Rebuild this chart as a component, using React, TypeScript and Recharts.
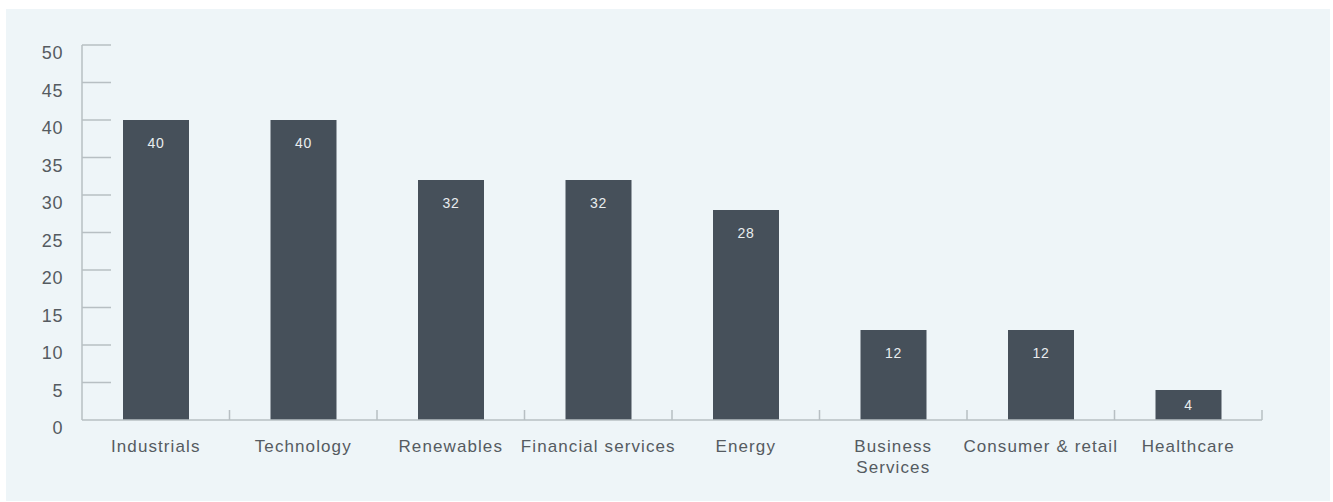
import { BarChart, Bar, XAxis, YAxis, LabelList } from "recharts"

const categories = [
  "Industrials",
  "Technology",
  "Renewables",
  "Financial services",
  "Energy",
  "Business Services",
  "Consumer & retail",
  "Healthcare"
];
const tickLabels = [
  ["Industrials"],
  ["Technology"],
  ["Renewables"],
  ["Financial services"],
  ["Energy"],
  ["Business", "Services"],
  ["Consumer & retail"],
  ["Healthcare"]
];
const values = [40, 40, 32, 32, 28, 12, 12, 4];
const yTicks = [0, 5, 10, 15, 20, 25, 30, 35, 40, 45, 50];

const data = categories.map((name, i) => ({ name, value: values[i] }));

const FONT = "'Liberation Sans', Arial, sans-serif";
const TEXT = "#555b61";
const AXIS = "#b7bfc3";
const BAR = "#46505a";
const BAND = 147.5;

const YTick = (props: any) => {
  const { x, y, payload } = props;
  return (
    <g>
      {payload.value !== 0 && (
        <line x1={x} x2={x + 29} y1={y} y2={y} stroke={AXIS} strokeWidth={1.5} />
      )}
      <text
        x={x - 19}
        y={y + 8}
        textAnchor="end"
        dominantBaseline="central"
        fill={TEXT}
        fontSize={18}
        fontFamily={FONT}
        letterSpacing={0.6}
      >
        {payload.value}
      </text>
    </g>
  );
};

const XTick = (props: any) => {
  const { x, y, index } = props;
  const lines = tickLabels[index] || [];
  return (
    <g>
      <line x1={x + BAND / 2} x2={x + BAND / 2} y1={y} y2={y - 10} stroke={AXIS} strokeWidth={1.5} />
      <text
        x={x}
        y={y + 26}
        textAnchor="middle"
        fill={TEXT}
        fontSize={17}
        fontFamily={FONT}
        letterSpacing={1.1}
      >
        {lines.map((l, i) => (
          <tspan key={l} x={x} dy={i === 0 ? "0.35em" : 21}>
            {l}
          </tspan>
        ))}
      </text>
    </g>
  );
};

// label sits ~23px under the bar top, or mid-bar when the bar is short
const BarLabel = (props: any) => {
  const { x, y, width, height, value } = props;
  return (
    <text
      x={x + width / 2}
      y={y + Math.min(23, height / 2)}
      textAnchor="middle"
      dominantBaseline="central"
      fill="#e9edef"
      fontSize={14}
      fontFamily={FONT}
      letterSpacing={0.7}
    >
      {value}
    </text>
  );
};

const App = (): JSX.Element => {
  return (
    <div
      style={{
        position: "absolute",
        left: 6,
        top: 9,
        width: 1324,
        height: 492,
        background: "#eef5f8"
      }}
    >
      <BarChart
        width={1324}
        height={492}
        data={data}
        barCategoryGap={0}
        margin={{ top: 36, right: 68, left: 0, bottom: 51 }}
      >
        <YAxis
          type="number"
          domain={[0, 50]}
          ticks={yTicks}
          width={76}
          interval={0}
          tickLine={false}
          tickSize={0}
          tickMargin={0}
          axisLine={{ stroke: AXIS, strokeWidth: 1.5 }}
          tick={<YTick />}
        />
        <XAxis
          dataKey="name"
          height={30}
          interval={0}
          tickLine={false}
          tickSize={0}
          tickMargin={0}
          axisLine={{ stroke: AXIS, strokeWidth: 1.5 }}
          tick={<XTick />}
        />
        <Bar dataKey="value" fill={BAR} barSize={66} isAnimationActive={false}>
          <LabelList dataKey="value" content={<BarLabel />} />
        </Bar>
      </BarChart>
    </div>
  );
};

export default App;
